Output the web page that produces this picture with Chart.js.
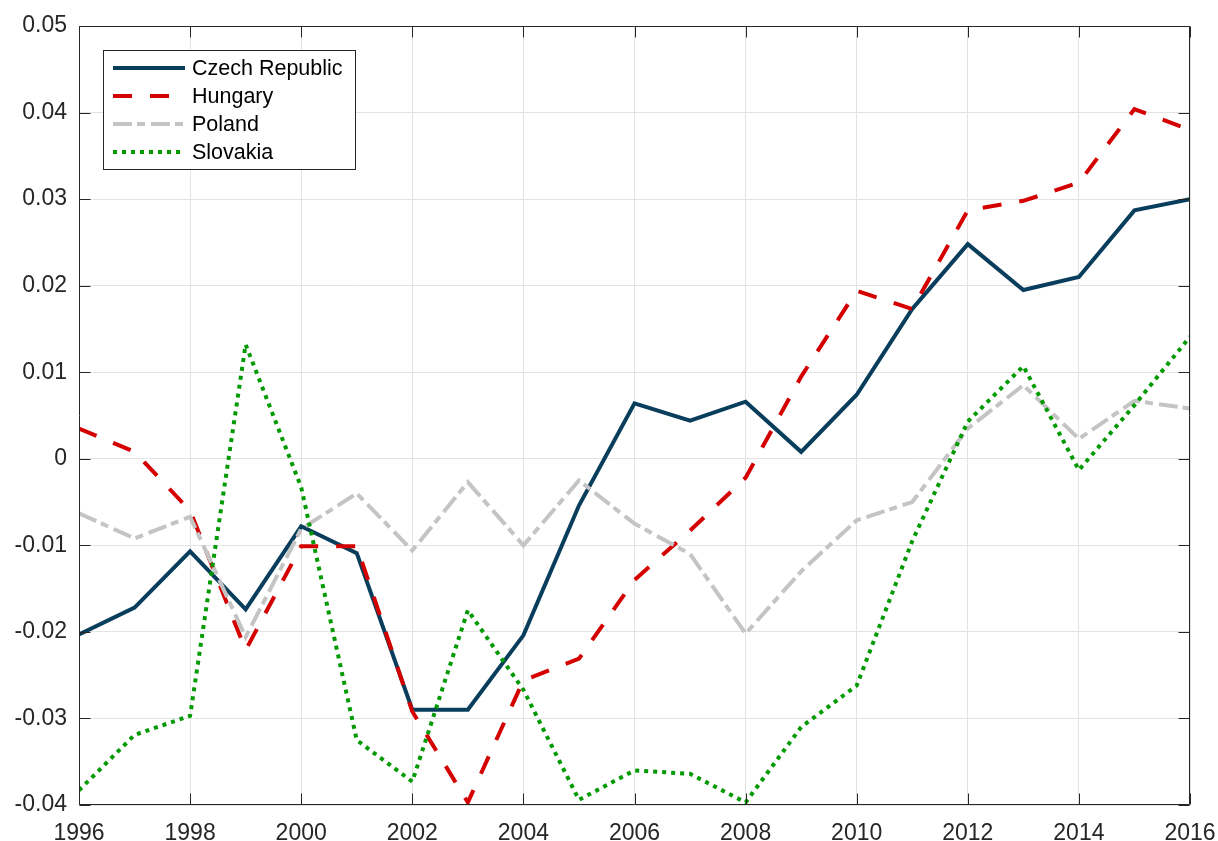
<!DOCTYPE html>
<html>
<head>
<meta charset="utf-8">
<script src="https://cdn.jsdelivr.net/npm/chart.js@4/dist/chart.umd.min.js"></script>
<style>
  body { margin: 0; background: #fff; }
  #wrap { width: 1218px; height: 841px; }
</style>
</head>
<body>
<div id="wrap"><canvas id="chart" width="1218" height="841"></canvas></div>
<script>
const years = [1996, 1997, 1998, 1999, 2000, 2001, 2002, 2003, 2004, 2005, 2006,
               2007, 2008, 2009, 2010, 2011, 2012, 2013, 2014, 2015, 2016];

const czech = [-0.0203, -0.0172, -0.0107, -0.0174, -0.0078, -0.0109, -0.0290, -0.0290, -0.0204, -0.0054, 0.0064,
               0.0044, 0.0066, 0.0008, 0.0074, 0.0173, 0.0248, 0.0195, 0.0210, 0.0287, 0.0300];
const hungary = [0.0035, 0.0008, -0.0060, -0.0221, -0.0101, -0.0101, -0.0292, -0.0397, -0.0256, -0.0231, -0.0140,
                 -0.0083, -0.0022, 0.0095, 0.0194, 0.0173, 0.0287, 0.0298, 0.0319, 0.0404, 0.0380];
const poland = [-0.0063, -0.0092, -0.0067, -0.0206, -0.0081, -0.0040, -0.0106, -0.0027, -0.0100, -0.0025, -0.0075,
                -0.0110, -0.0202, -0.0130, -0.0071, -0.0050, 0.0035, 0.0085, 0.0023, 0.0067, 0.0058];
const slovakia = [-0.0383, -0.0319, -0.0297, 0.0132, -0.0033, -0.0325, -0.0373, -0.0175, -0.0267, -0.0394, -0.0360,
                  -0.0364, -0.0397, -0.0310, -0.0262, -0.0095, 0.0043, 0.0107, -0.0013, 0.0062, 0.0141];

const seriesNames = ['Czech Republic', 'Hungary', 'Poland', 'Slovakia'];
const xTicks = [1996, 1998, 2000, 2002, 2004, 2006, 2008, 2010, 2012, 2014, 2016];
const yTicks = [-0.04, -0.03, -0.02, -0.01, 0, 0.01, 0.02, 0.03, 0.04, 0.05];

const FONT = "'Liberation Sans', Arial, Helvetica, sans-serif";
const AXIS = '#262626';

function pts(vals) {
    return years.map((y, i) => ({ x: y, y: vals[i] }));
}

// box round the axes with inward ticks, the matlab look
const framePlugin = {
    id: 'frame',
    afterDraw(chart) {
        const ctx = chart.ctx;
        const a = chart.chartArea;
        const xs = chart.scales.x, ys = chart.scales.y;
        const L = Math.round(a.left) + 0.5, R = Math.round(a.right) - 0.5;
        const T = Math.round(a.top) + 0.5, B = Math.round(a.bottom) - 0.5;
        ctx.save();
        ctx.strokeStyle = AXIS;
        ctx.lineWidth = 1;
        ctx.beginPath();
        ctx.rect(L, T, R - L, B - T);
        xTicks.forEach(t => {
            const px = Math.round(xs.getPixelForValue(t)) + 0.5;
            ctx.moveTo(px, B); ctx.lineTo(px, B - 11);
            ctx.moveTo(px, T); ctx.lineTo(px, T + 11);
        });
        yTicks.forEach(t => {
            const py = Math.round(ys.getPixelForValue(t)) + 0.5;
            ctx.moveTo(L, py); ctx.lineTo(L + 11, py);
            ctx.moveTo(R, py); ctx.lineTo(R - 11, py);
        });
        ctx.stroke();
        ctx.restore();
    }
};

// legend box inside the plot, top left
const legendPlugin = {
    id: 'insideLegend',
    afterDatasetsDraw(chart) {
        const ctx = chart.ctx;
        const a = chart.chartArea;
        const bx = Math.round(a.left) + 24, by = Math.round(a.top) + 24;
        const bw = 252, bh = 119;
        ctx.save();
        ctx.fillStyle = '#fff';
        ctx.fillRect(bx, by, bw, bh);
        ctx.strokeStyle = AXIS;
        ctx.lineWidth = 1;
        ctx.strokeRect(bx + 0.5, by + 0.5, bw, bh);
        ctx.font = '21.5px ' + FONT;
        ctx.textBaseline = 'middle';
        chart.data.datasets.forEach((ds, i) => {
            const y = by + 18 + i * 28;
            ctx.beginPath();
            ctx.strokeStyle = ds.borderColor;
            ctx.lineWidth = ds.borderWidth;
            ctx.lineCap = 'butt';
            ctx.setLineDash(ds.borderDash || []);
            ctx.moveTo(bx + 10, y);
            ctx.lineTo(bx + 82, y);
            ctx.stroke();
            ctx.setLineDash([]);
            ctx.fillStyle = '#000';
            ctx.fillText(ds.label, bx + 89, y + 1);
        });
        ctx.restore();
    }
};

new Chart(document.getElementById('chart'), {
    type: 'line',
    data: {
        datasets: [
            { label: seriesNames[0], data: pts(czech), borderColor: '#083d5c', borderWidth: 4, order: 4 },
            { label: seriesNames[1], data: pts(hungary), borderColor: '#d40000', borderWidth: 4, borderDash: [19, 18], order: 3 },
            { label: seriesNames[2], data: pts(poland), borderColor: '#c4c4c4', borderWidth: 4, borderDash: [19, 5, 8, 6], order: 2 },
            { label: seriesNames[3], data: pts(slovakia), borderColor: '#009a00', borderWidth: 4, borderDash: [4, 5], order: 1 }
        ]
    },
    options: {
        responsive: false,
        animation: false,
        layout: { padding: { top: 26, right: 28, left: 0, bottom: 0 } },
        elements: {
            point: { radius: 0, hoverRadius: 0 },
            line: { tension: 0, fill: false, borderCapStyle: 'butt', borderJoinStyle: 'miter' }
        },
        plugins: { legend: { display: false }, tooltip: { enabled: false } },
        scales: {
            x: {
                type: 'linear',
                min: 1996, max: 2016,
                afterBuildTicks: s => { s.ticks = xTicks.map(v => ({ value: v })); },
                afterFit: s => { s.height = 36; s.paddingLeft = 0; s.paddingRight = 0; },
                ticks: {
                    callback: v => String(v),
                    color: AXIS, padding: 15, maxRotation: 0,
                    font: { family: FONT, size: 23 }
                },
                grid: { color: '#e3e3e3', lineWidth: 1, drawTicks: false },
                border: { display: false }
            },
            y: {
                min: -0.04, max: 0.05,
                afterBuildTicks: s => { s.ticks = yTicks.map(v => ({ value: v })); },
                afterFit: s => { s.width = 79; s.paddingTop = 0; s.paddingBottom = 0; },
                ticks: {
                    callback: v => Math.abs(v) < 1e-9 ? '0' : v.toFixed(2),
                    color: AXIS, padding: 12,
                    font: { family: FONT, size: 23 }
                },
                grid: { color: '#e3e3e3', lineWidth: 1, drawTicks: false },
                border: { display: false }
            }
        }
    },
    plugins: [framePlugin, legendPlugin]
});
</script>
</body>
</html>
